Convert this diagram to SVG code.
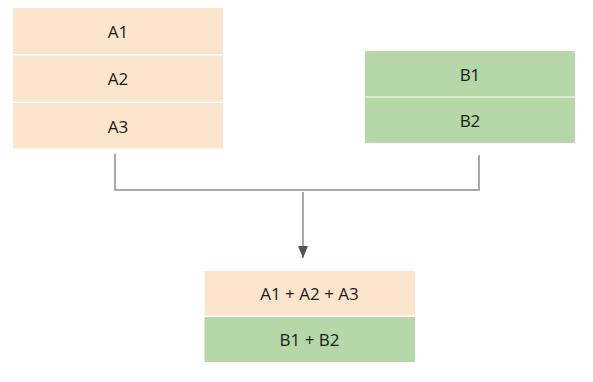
<svg xmlns="http://www.w3.org/2000/svg" width="593" height="382" viewBox="0 0 593 382">
<style>
.a{fill:#fce5cd}
.b{fill:#b6d7a8}
text{font-family:"Open Sans","Liberation Sans",sans-serif;font-size:17px;fill:#1a1a1a;text-anchor:middle;dominant-baseline:central}
.c{fill:none;stroke:#8c8c8c;stroke-width:1.5}
</style>
<defs>
<marker id="ah" markerWidth="12" markerHeight="10" refX="12" refY="5" orient="auto" markerUnits="userSpaceOnUse" viewBox="0 0 12 10">
<path d="M0,0 L12,5 L0,10 Z" fill="#555"/>
</marker>
</defs>
<rect width="593" height="382" fill="#fff"/>
<g id="A1"><rect class="a" x="13" y="8" width="210" height="46"/><text x="118" y="31">A1</text></g>
<g id="A2"><rect class="a" x="13" y="55.5" width="210" height="46"/><text x="118" y="78.5">A2</text></g>
<g id="A3"><rect class="a" x="13" y="103" width="210" height="45.5"/><text x="118" y="126">A3</text></g>
<g id="B1"><rect class="b" x="365" y="51" width="210" height="45.5"/><text x="470" y="74">B1</text></g>
<g id="B2"><rect class="b" x="365" y="97.5" width="210" height="45.5"/><text x="470" y="120">B2</text></g>
<g id="AB1"><rect class="a" x="204.5" y="271" width="210.5" height="44.5"/><text x="309.5" y="293">A1 + A2 + A3</text></g>
<g id="AB2"><rect class="b" x="204.5" y="317" width="210.5" height="45"/><text x="309.5" y="339.5">B1 + B2</text></g>
<g id="connectors">
<path class="c" d="M115,154 V190 H479 V155"/>
<path class="c" d="M303,192 V258" marker-end="url(#ah)"/>
</g>
</svg>
